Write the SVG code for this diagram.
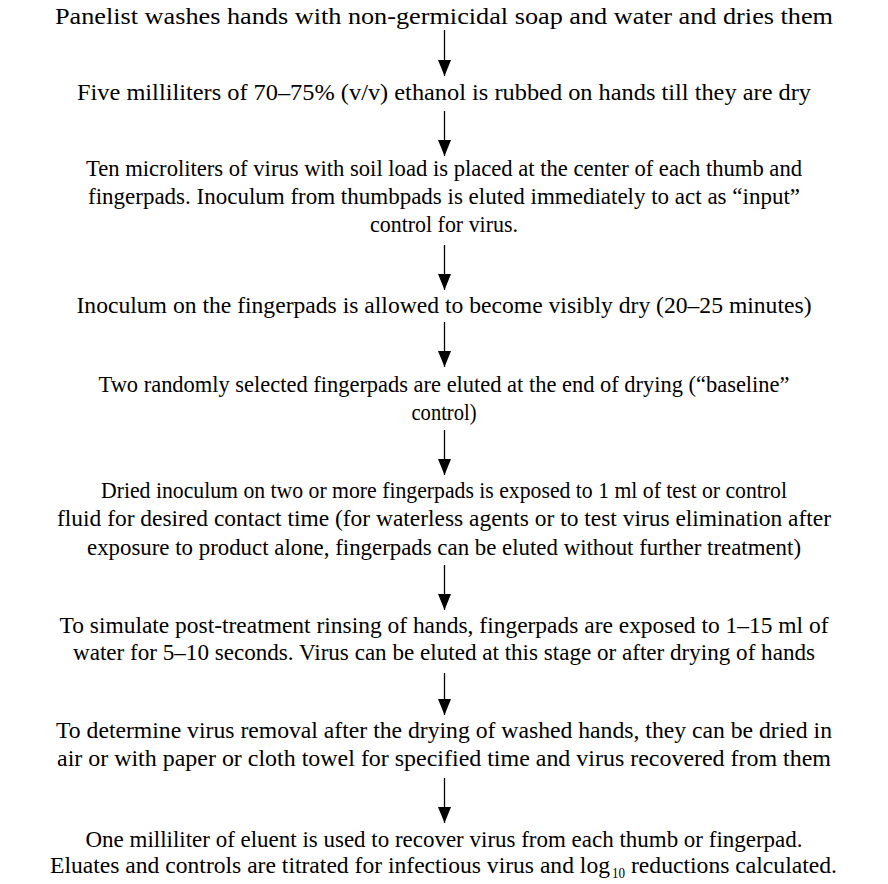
<svg xmlns="http://www.w3.org/2000/svg" width="888" height="884" viewBox="0 0 888 884">
<style>
text{font-family:"Liberation Serif","Times New Roman",serif;font-size:24px;fill:#000;text-anchor:middle}
text.l{text-anchor:start}
text.sub{font-size:14px;text-anchor:start}
.c line{stroke:#000;stroke-width:1.3}
</style>
<defs>
<marker id="ah" viewBox="0 0 16 13" refX="16" refY="6.5" markerWidth="16" markerHeight="13" markerUnits="userSpaceOnUse" orient="auto">
<path d="M0,0 L16,6.5 L0,13 Z" fill="#000"/>
</marker>
</defs>
<rect width="888" height="884" fill="#fff"/>
<g id="n1"><text x="444" y="24" textLength="778" lengthAdjust="spacingAndGlyphs">Panelist washes hands with non-germicidal soap and water and dries them</text></g>
<g id="n2"><text x="444" y="100" textLength="734" lengthAdjust="spacingAndGlyphs">Five milliliters of 70–75% (v/v) ethanol is rubbed on hands till they are dry</text></g>
<g id="n3"><text x="444" y="176" textLength="716" lengthAdjust="spacingAndGlyphs">Ten microliters of virus with soil load is placed at the center of each thumb and</text><text x="444" y="204" textLength="712" lengthAdjust="spacingAndGlyphs">fingerpads. Inoculum from thumbpads is eluted immediately to act as “input”</text><text x="444" y="232" textLength="148" lengthAdjust="spacingAndGlyphs">control for virus.</text></g>
<g id="n4"><text x="444" y="313" textLength="735" lengthAdjust="spacingAndGlyphs">Inoculum on the fingerpads is allowed to become visibly dry (20–25 minutes)</text></g>
<g id="n5"><text x="444" y="392" textLength="691" lengthAdjust="spacingAndGlyphs">Two randomly selected fingerpads are eluted at the end of drying (“baseline”</text><text x="444" y="420" textLength="65" lengthAdjust="spacingAndGlyphs">control)</text></g>
<g id="n6"><text x="444" y="498" textLength="686" lengthAdjust="spacingAndGlyphs">Dried inoculum on two or more fingerpads is exposed to 1 ml of test or control</text><text x="444" y="526" textLength="774" lengthAdjust="spacingAndGlyphs">fluid for desired contact time (for waterless agents or to test virus elimination after</text><text x="444" y="555" textLength="714" lengthAdjust="spacingAndGlyphs">exposure to product alone, fingerpads can be eluted without further treatment)</text></g>
<g id="n7"><text x="444" y="633" textLength="769" lengthAdjust="spacingAndGlyphs">To simulate post-treatment rinsing of hands, fingerpads are exposed to 1–15 ml of</text><text x="444" y="660" textLength="742" lengthAdjust="spacingAndGlyphs">water for 5–10 seconds. Virus can be eluted at this stage or after drying of hands</text></g>
<g id="n8"><text x="444" y="738" textLength="776" lengthAdjust="spacingAndGlyphs">To determine virus removal after the drying of washed hands, they can be dried in</text><text x="444" y="766" textLength="774" lengthAdjust="spacingAndGlyphs">air or with paper or cloth towel for specified time and virus recovered from them</text></g>
<g id="n9"><text x="444" y="847" textLength="717" lengthAdjust="spacingAndGlyphs">One milliliter of eluent is used to recover virus from each thumb or fingerpad.</text><text class="l" x="50" y="873" font-size="23.5" textLength="560" lengthAdjust="spacingAndGlyphs">Eluates and controls are titrated for infectious virus and log</text><text class="sub" x="612" y="878" textLength="13" lengthAdjust="spacingAndGlyphs">10</text><text class="l" x="631" y="873" textLength="206" lengthAdjust="spacingAndGlyphs">reductions calculated.</text></g>
<g id="connectors" class="c">
<line x1="444.5" y1="30" x2="444.5" y2="76" marker-end="url(#ah)"/>
<line x1="444.5" y1="111" x2="444.5" y2="156" marker-end="url(#ah)"/>
<line x1="444.5" y1="245" x2="444.5" y2="290" marker-end="url(#ah)"/>
<line x1="444.5" y1="322" x2="444.5" y2="367" marker-end="url(#ah)"/>
<line x1="444.5" y1="430" x2="444.5" y2="475" marker-end="url(#ah)"/>
<line x1="444.5" y1="565" x2="444.5" y2="610" marker-end="url(#ah)"/>
<line x1="444.5" y1="673" x2="444.5" y2="715" marker-end="url(#ah)"/>
<line x1="444.5" y1="778" x2="444.5" y2="823" marker-end="url(#ah)"/>
</g>
</svg>
